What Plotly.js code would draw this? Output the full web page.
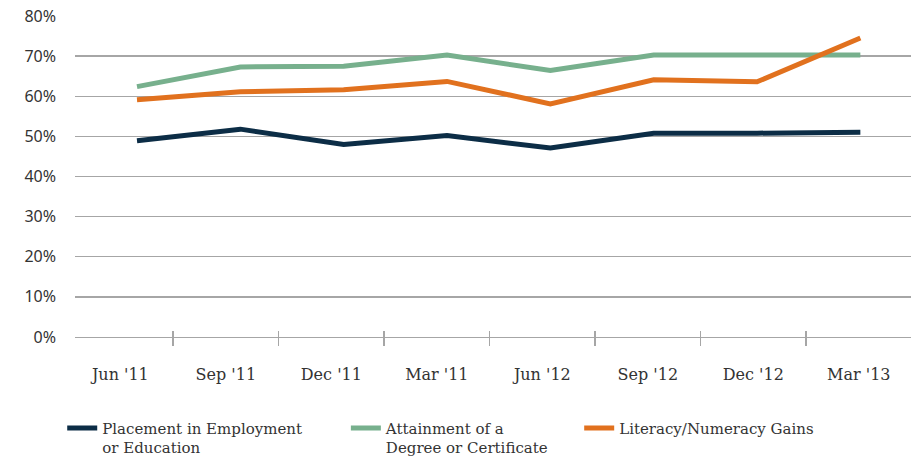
<!DOCTYPE html>
<html>
<head>
<meta charset="utf-8">
<script src="https://cdn.plot.ly/plotly-3.0.1.min.js"></script>
<style>html,body{margin:0;padding:0;background:#fff;}#chart{width:915px;height:459px;}</style>
</head>
<body>
<div id="chart"></div>
<script>
const categories = ["Jun '11", "Sep '11", "Dec '11", "Mar '11", "Jun '12", "Sep '12", "Dec '12", "Mar '13"];
const placement = [48.9, 51.8, 48.0, 50.2, 47.1, 50.8, 50.8, 51.0];
const attainment = [62.4, 67.3, 67.5, 70.3, 66.4, 70.3, 70.3, 70.3];
const literacy = [59.1, 61.1, 61.6, 63.7, 58.1, 64.1, 63.6, 74.5];
const seriesNames = ["Placement in Employment<br>or Education", "Attainment of a<br>Degree or Certificate", "Literacy/Numeracy Gains"];
const yTicks = [0, 10, 20, 30, 40, 50, 60, 70, 80];
const yTickText = ["0%", "10%", "20%", "30%", "40%", "50%", "60%", "70%", "80%"];

const colors = ["#0c2d46", "#77b08d", "#e1711e"];
const serif = "DejaVu Serif, serif";
const grid = "#a6a6a6";
const idx = categories.map((c, i) => i);

const mk = (y, i, leg) => ({
  x: categories, y: y, type: 'scatter', mode: 'lines', name: seriesNames[i],
  line: {color: colors[i], width: 5}, legend: leg, xaxis: 'x', yaxis: 'y'
});
const data = [mk(placement, 0, 'legend'), mk(attainment, 1, 'legend2'), mk(literacy, 2, 'legend3')];

const legBase = (x) => ({
  x: x, y: 0.103, xref: 'container', yref: 'container', xanchor: 'left', yanchor: 'top', orientation: 'h',
  font: {family: serif, size: 15, color: '#333'}, bgcolor: 'rgba(0,0,0,0)', valign: 'top'
});

const layout = {
  width: 915, height: 459,
  margin: {l: 75, r: 4, t: 16, b: 122},
  paper_bgcolor: '#fff', plot_bgcolor: '#fff',
  showlegend: true,
  xaxis: {type: 'category', range: [-0.6, 7.49], showticklabels: false, ticks: '', showgrid: false, zeroline: false,
    showline: true, linecolor: grid, linewidth: 1.3},
  xaxis2: {overlaying: 'x', anchor: 'y', side: 'bottom', type: 'linear', range: [-0.43, 7.495],
    tickmode: 'array', tickvals: idx, ticktext: categories, ticks: '', showgrid: false, zeroline: false, showline: false,
    tickfont: {family: serif, size: 16, color: '#333'}, ticklabelstandoff: 26,
    minor: {tick0: 0.5, dtick: 1, ticks: 'outside', ticklen: 8, tickwidth: 1.3, tickcolor: grid, showgrid: false}},
  xaxis3: {overlaying: 'x', anchor: 'y', side: 'bottom', type: 'linear', range: [-0.43, 7.495],
    showticklabels: false, ticks: '', showgrid: false, zeroline: false, showline: false,
    minor: {tick0: 0.5, dtick: 1, ticks: 'inside', ticklen: 6, tickwidth: 1.3, tickcolor: grid, showgrid: false}},
  yaxis: {range: [0, 80], tickmode: 'array', tickvals: yTicks, ticktext: yTickText, showgrid: true, gridcolor: grid, gridwidth: 1.3,
    zeroline: false, showline: false, ticks: '', ticklabelstandoff: 18,
    tickfont: {family: 'Noto Sans, sans-serif', size: 16, color: '#333'}},
  legend: legBase(0.068),
  legend2: legBase(0.378),
  legend3: legBase(0.633)
};

data.push({x: [0], y: [null], xaxis: 'x2', yaxis: 'y', showlegend: false, hoverinfo: 'skip', mode: 'lines'});
data.push({x: [0], y: [null], xaxis: 'x3', yaxis: 'y', showlegend: false, hoverinfo: 'skip', mode: 'lines'});

Plotly.newPlot('chart', data, layout, {displayModeBar: false, staticPlot: true});
</script>
</body>
</html>
